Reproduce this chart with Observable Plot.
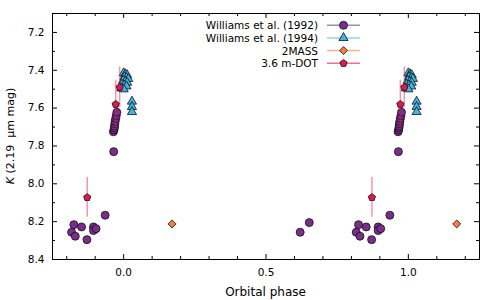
<!DOCTYPE html>
<html><head><meta charset="utf-8">
<script src="https://cdn.jsdelivr.net/npm/d3@7"></script>
<script src="https://cdn.jsdelivr.net/npm/@observablehq/plot@0.6"></script>
<style>
body{margin:0;background:#fff;}
#wrap{position:relative;width:500px;height:300px;font-family:"DejaVu Sans",sans-serif;}
#wrap svg{position:absolute;left:0;top:0;}
</style>
</head><body><div id="wrap"></div>
<script>
// ---- data (orbital phase in [0,1), K magnitude) ----
const w92Phase = [0.620, 0.652, 0.817, 0.825, 0.830, 0.852, 0.871, 0.894, 0.894, 0.903, 0.935, 0.965, 0.964, 0.966, 0.967, 0.968, 0.969, 0.970, 0.972, 0.974, 0.976];
const w92K     = [8.256, 8.205, 8.256, 8.216, 8.277, 8.228, 8.295, 8.228, 8.247, 8.237, 8.166, 7.830, 7.725, 7.715, 7.705, 7.695, 7.682, 7.670, 7.655, 7.640, 7.622];

const w94Phase = [0.000, 0.006, 0.012, 0.003, 0.010, 0.016, 0.998, 0.006, 0.012, 0.994, 0.002, 0.010, 0.992, 0.000, 0.029, 0.029, 0.029];
const w94K     = [7.415, 7.420, 7.425, 7.435, 7.440, 7.445, 7.455, 7.460, 7.465, 7.475, 7.480, 7.485, 7.495, 7.500, 7.565, 7.593, 7.620];

const massPhase = [0.170];
const massK     = [8.212];

const dotPhase = [0.872, 0.972, 0.986];
const dotK     = [8.072, 7.580, 7.490];
const dotErr   = [0.105, 0.127, 0.107];

const xMajorTicks = [0.0, 0.5, 1.0];
const xMinorTicks = [-0.2, -0.1, 0.1, 0.2, 0.3, 0.4, 0.6, 0.7, 0.8, 0.9, 1.1, 1.2];
const yMajorTicks = [7.2, 7.4, 7.6, 7.8, 8.0, 8.2, 8.4];
const yMinorTicks = [7.1, 7.3, 7.5, 7.7, 7.9, 8.1, 8.3];

const seriesNames  = ["Williams et al. (1992)", "Williams et al. (1994)", "2MASS", "3.6 m-DOT"];
const seriesColors = ["#7a2d8c", "#3fb4e6", "#f57e3e", "#e0194c"];

// ---- layout ----
const W = 500, H = 300, mL = 52, mR = 21, mT = 13, mB = 41;
const ih = H - mT - mB, iw = W - mL - mR;
const xDomain = [-0.25, 1.25];

// fold: repeat each point one cycle earlier/later, keep the ones inside the x-domain
function fold(phases, ks, errs) {
  const rows = [];
  phases.forEach((p, i) => {
    for (const s of [-1, 0, 1]) {
      const x = p + s;
      if (x >= xDomain[0] && x <= xDomain[1]) rows.push({x, k: ks[i], e: errs ? errs[i] : 0});
    }
  });
  return rows;
}
const w92 = fold(w92Phase, w92K);
const w94 = fold(w94Phase, w94K);
const mass = fold(massPhase, massK);
const dot = fold(dotPhase, dotK, dotErr);

const pentagon = {
  draw(ctx, size) {
    const r = Math.sqrt(size / 2.3776);
    for (let i = 0; i < 5; i++) {
      const a = -Math.PI / 2 + i * 2 * Math.PI / 5;
      const x = r * Math.cos(a), y = r * Math.sin(a);
      i ? ctx.lineTo(x, y) : ctx.moveTo(x, y);
    }
    ctx.closePath();
  }
};
const symbols = [d3.symbolCircle, d3.symbolTriangle, d3.symbolDiamond2, pentagon];
const radii = [4, 3.4, 3.6, 3.3];

const majorLen = 5, minorLen = 3;

const plot = Plot.plot({
  width: W, height: H,
  marginLeft: mL, marginRight: mR, marginTop: mT, marginBottom: mB,
  style: {fontFamily: "DejaVu Sans, sans-serif", fontSize: "10.5px", color: "#000", background: "#fff"},
  x: {domain: xDomain},
  y: {domain: [7.1, 8.4], reverse: true},
  marks: [
    Plot.dot(w92, {x: "x", y: "k", r: radii[0], symbol: () => symbols[0], fill: seriesColors[0], stroke: "#111", strokeWidth: 0.8}),
    Plot.dot(w94, {x: "x", y: "k", r: radii[1], symbol: () => symbols[1], fill: seriesColors[1], stroke: "#111", strokeWidth: 0.8}),
    Plot.dot(mass, {x: "x", y: "k", r: radii[2], symbol: () => symbols[2], fill: seriesColors[2], stroke: "#111", strokeWidth: 0.8}),
    Plot.ruleX(dot, {x: "x", y1: d => d.k - d.e, y2: d => d.k + d.e, stroke: seriesColors[3], strokeOpacity: 0.45, strokeWidth: 1.5}),
    Plot.dot(dot, {x: "x", y: "k", r: radii[3], symbol: () => symbols[3], fill: seriesColors[3], stroke: "#111", strokeWidth: 0.8}),
    // inward ticks, all four sides
    Plot.tickX(xMajorTicks, {x: d => d, insetTop: ih - majorLen, stroke: "#000"}),
    Plot.tickX(xMajorTicks, {x: d => d, insetBottom: ih - majorLen, stroke: "#000"}),
    Plot.tickX(xMinorTicks, {x: d => d, insetTop: ih - minorLen, stroke: "#000"}),
    Plot.tickX(xMinorTicks, {x: d => d, insetBottom: ih - minorLen, stroke: "#000"}),
    Plot.tickY(yMajorTicks, {y: d => d, insetRight: iw - majorLen, stroke: "#000"}),
    Plot.tickY(yMajorTicks, {y: d => d, insetLeft: iw - majorLen, stroke: "#000"}),
    Plot.tickY(yMinorTicks, {y: d => d, insetRight: iw - minorLen, stroke: "#000"}),
    Plot.tickY(yMinorTicks, {y: d => d, insetLeft: iw - minorLen, stroke: "#000"}),
    Plot.axisX({ticks: xMajorTicks, tickSize: 0, tickPadding: 9, tickFormat: d3.format(".1f"), label: null}),
    Plot.axisY({ticks: yMajorTicks, tickSize: 0, tickPadding: 8, tickFormat: d3.format(".1f"), label: null}),
    Plot.frame({stroke: "#000", strokeWidth: 1})
  ]
});
document.getElementById("wrap").appendChild(plot);

// axis titles
const svg = d3.select(plot);
const yl = svg.append("text")
  .attr("transform", `translate(10,${mT + ih / 2}) rotate(-90)`)
  .attr("text-anchor", "middle").attr("dominant-baseline", "central")
  .attr("font-size", "11px").attr("fill", "#000").attr("xml:space", "preserve");
yl.append("tspan").attr("font-style", "italic").text("K");
yl.append("tspan").text(" (2.19\u00a0 \u03bcm mag)");
svg.append("text")
  .attr("x", mL + iw / 2).attr("y", 296)
  .attr("text-anchor", "middle").attr("font-size", "12px").attr("fill", "#000")
  .text("Orbital phase");

// legend (inside axes, upper centre)
const leg = d3.select("#wrap").append("svg").attr("width", W).attr("height", H)
  .style("pointer-events", "none").style("font-family", "DejaVu Sans, sans-serif");
const rowY = [25.3, 37.9, 50.6, 63.3];
seriesNames.forEach((name, i) => {
  const g = leg.append("g").attr("transform", `translate(0,${rowY[i]})`);
  g.append("text").attr("x", 318).attr("y", 0).attr("text-anchor", "end")
    .attr("dominant-baseline", "central").attr("font-size", "10.5px").attr("fill", "#000").text(name);
  g.append("line").attr("x1", 327).attr("x2", 360).attr("y1", 0).attr("y2", 0)
    .attr("stroke", seriesColors[i]).attr("stroke-opacity", 0.6).attr("stroke-width", 1.5);
  g.append("path").attr("transform", "translate(343.5,0)")
    .attr("d", d3.symbol(symbols[i], Math.PI * radii[i] * radii[i])())
    .attr("fill", seriesColors[i]).attr("stroke", "#111").attr("stroke-width", 0.8);
});
</script>
</body></html>
